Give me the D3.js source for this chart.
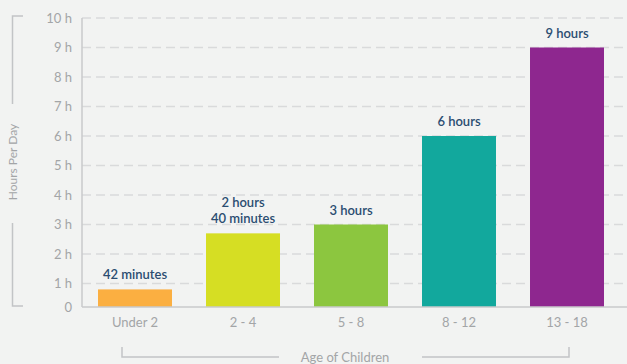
<!DOCTYPE html>
<html>
<head>
<meta charset="utf-8">
<title>Hours Per Day by Age</title>
<style>
  body { margin: 0; background: #f2f3f2; }
  svg { display: block; font-family: Lato, "Open Sans", sans-serif; }
</style>
</head>
<body>
<div id="chart"></div>
<script src="https://d3js.org/d3.v7.min.js"></script>
<script>
  var categories = ['Under 2', '2 - 4', '5 - 8', '8 - 12', '13 - 18'];
  var hours = [0.8, 2.7, 3, 6, 9];
  var valueLabels = [['42 minutes'], ['2 hours', '40 minutes'], ['3 hours'], ['6 hours'], ['9 hours']];
  var barColors = ['#fbaf41', '#d6de23', '#8cc63f', '#12a89d', '#8e278f'];
  var yTicks = [1, 2, 3, 4, 5, 6, 7, 8, 9, 10];

  var width = 627, height = 364;
  var axisY = 307, axisX = 82;

  var svg = d3.select('#chart').append('svg')
    .attr('width', width)
    .attr('height', height);

  var x = d3.scaleBand()
    .domain(categories)
    .range([81, 621])
    .paddingInner(0.315)
    .paddingOuter(0.1575);

  var y = d3.scaleLinear()
    .domain([0, 10])
    .range([313, 18]);

  // gridlines
  svg.append('g').selectAll('line')
    .data(yTicks)
    .enter().append('line')
    .attr('x1', axisX)
    .attr('x2', width)
    .attr('y1', function(d) { return y(d); })
    .attr('y2', function(d) { return y(d); })
    .attr('stroke', '#d9dadb')
    .attr('stroke-width', 1.5)
    .attr('stroke-dasharray', '9,5');

  // y tick labels
  svg.append('g').selectAll('text')
    .data(yTicks)
    .enter().append('text')
    .attr('x', 72)
    .attr('y', function(d) { return y(d); })
    .attr('dy', '0.35em')
    .attr('text-anchor', 'end')
    .attr('fill', '#a3a5a7')
    .style('font-size', '13px')
    .text(function(d) { return d + ' h'; });

  svg.append('text')
    .attr('x', 72)
    .attr('y', axisY)
    .attr('dy', '0.35em')
    .attr('text-anchor', 'end')
    .attr('fill', '#a3a5a7')
    .style('font-size', '13px')
    .text('0');

  // bars
  svg.append('g').selectAll('rect')
    .data(hours)
    .enter().append('rect')
    .attr('x', function(d, i) { return x(categories[i]); })
    .attr('y', function(d) { return y(d); })
    .attr('width', x.bandwidth())
    .attr('height', function(d) { return axisY - y(d); })
    .attr('fill', function(d, i) { return barColors[i]; });

  // value labels
  var vl = svg.append('g').selectAll('text')
    .data(hours)
    .enter().append('text')
    .attr('text-anchor', 'middle')
    .attr('fill', '#2b4d71')
    .style('font-size', '13px')
    .style('font-weight', '600');

  vl.each(function(d, i) {
    var lines = valueLabels[i];
    var cx = x(categories[i]) + x.bandwidth() / 2;
    var t = d3.select(this);
    lines.forEach(function(s, j) {
      t.append('tspan')
        .attr('x', cx)
        .attr('y', y(d) - 10 - (lines.length - 1 - j) * 16)
        .text(s);
    });
  });

  // axis lines
  svg.append('line')
    .attr('x1', axisX).attr('x2', axisX)
    .attr('y1', y(10)).attr('y2', axisY)
    .attr('stroke', '#c9cacb').attr('stroke-width', 1.5);
  svg.append('line')
    .attr('x1', axisX).attr('x2', width)
    .attr('y1', axisY).attr('y2', axisY)
    .attr('stroke', '#c9cacb').attr('stroke-width', 1.5);

  // x tick labels
  svg.append('g').selectAll('text')
    .data(categories)
    .enter().append('text')
    .attr('x', function(d) { return x(d) + x.bandwidth() / 2; })
    .attr('y', 322)
    .attr('dy', '0.35em')
    .attr('text-anchor', 'middle')
    .attr('fill', '#a3a5a7')
    .style('font-size', '13px')
    .text(function(d) { return d; });

  // axis titles with brackets
  var bracket = '#c2c4c6';
  svg.append('text')
    .attr('x', 345)
    .attr('y', 357)
    .attr('dy', '0.35em')
    .attr('text-anchor', 'middle')
    .attr('fill', '#a3a5a7')
    .style('font-size', '13px')
    .text('Age of Children');
  svg.append('path')
    .attr('d', 'M122,347V357H279')
    .attr('fill', 'none').attr('stroke', bracket).attr('stroke-width', 1.5);
  svg.append('path')
    .attr('d', 'M422,357H569V347')
    .attr('fill', 'none').attr('stroke', bracket).attr('stroke-width', 1.5);

  svg.append('text')
    .attr('transform', 'translate(13,162) rotate(-90)')
    .attr('dy', '0.35em')
    .attr('text-anchor', 'middle')
    .attr('fill', '#a3a5a7')
    .style('font-size', '12px')
    .text('Hours Per Day');
  svg.append('path')
    .attr('d', 'M23,16H12.5V104')
    .attr('fill', 'none').attr('stroke', bracket).attr('stroke-width', 1.5);
  svg.append('path')
    .attr('d', 'M12.5,223V306H23')
    .attr('fill', 'none').attr('stroke', bracket).attr('stroke-width', 1.5);
</script>
</body>
</html>
